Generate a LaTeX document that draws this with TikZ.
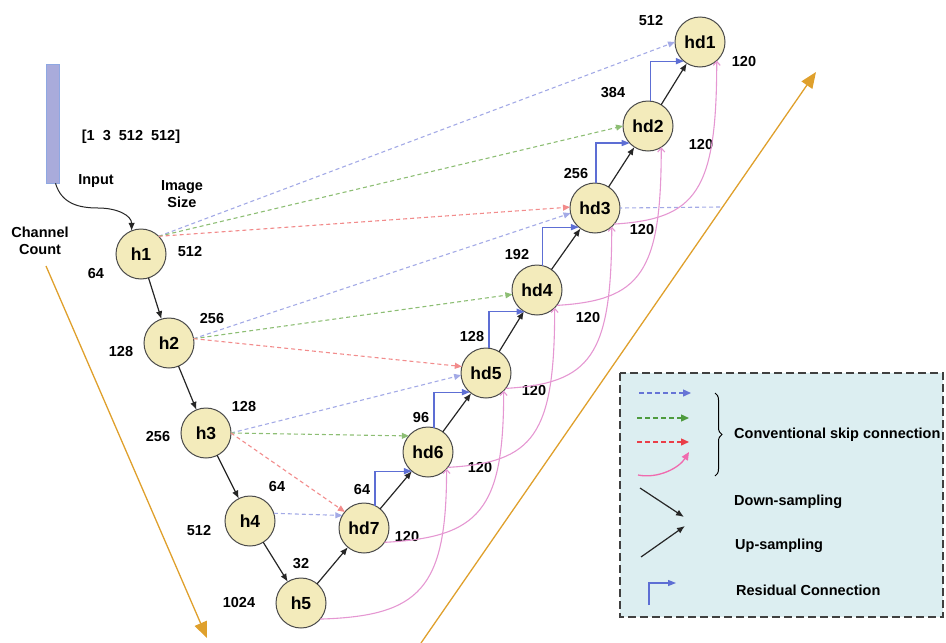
\documentclass[tikz,border=0pt]{standalone}
\usepackage{fontspec}
\setmainfont{Liberation Sans}
\usetikzlibrary{arrows.meta,calc,decorations.pathreplacing}

\definecolor{nodefill}{HTML}{F3EBBB}
\definecolor{nodeedge}{HTML}{4A4A4A}
\definecolor{skipblue}{HTML}{A3AAE6}
\definecolor{skipgreen}{HTML}{8DBE74}
\definecolor{skipred}{HTML}{F28C8C}
\definecolor{skippink}{HTML}{E597D2}
\definecolor{resblue}{HTML}{5D6ED4}
\definecolor{axisorange}{HTML}{DFA02C}
\definecolor{legendfill}{HTML}{DCEEF1}
\definecolor{legblue}{HTML}{6674D6}
\definecolor{leggreen}{HTML}{4E9B3E}
\definecolor{legred}{HTML}{EA3E48}
\definecolor{legpink}{HTML}{F06AAE}
\definecolor{inputfill}{HTML}{A9ABDB}
\definecolor{inputedge}{HTML}{8FA8E2}

\begin{document}
\begin{tikzpicture}[x=1pt,y=-1pt,
  unit/.style={circle, draw=nodeedge, line width=1pt, fill=nodefill,
    minimum size=50pt, inner sep=0pt, outer sep=0pt,
    font=\fontsize{17.5}{18}\selectfont\bfseries},
  lbl/.style={inner sep=0pt, font=\fontsize{14.5}{17}\selectfont\bfseries},
  down/.style={draw=black!85, line width=1.2pt, -{Latex[length=8pt,width=6.5pt]}},
  skip/.style={dash pattern=on 4pt off 3pt, line width=1.1pt,
    -{Triangle[length=7pt,width=6pt]}},
  legskipline/.style={dash pattern=on 5pt off 3pt, line width=1.4pt,
    -{Triangle[length=8pt,width=7pt]}},
  fuse/.style={draw=skippink, line width=1.1pt, -{Straight Barb[length=4pt,width=7pt]}},
  resid/.style={draw=resblue, line width=1.3pt, -{Triangle[length=8pt,width=6pt]}},
  axis/.style={draw=axisorange, line width=1.3pt, -{Triangle[length=16pt,width=13pt]}}
]
\useasboundingbox (0,0) rectangle (946,643);

% orange direction axes
\coordinate (ax1s) at (46,266);
\coordinate (ax1e) at (207,638);
\draw[axis] (ax1s) -- (ax1e);
\coordinate (ax2s) at (421,643);
\coordinate (ax2e) at (816,72);
\draw[axis] (ax2s) -- (ax2e);

% input tensor
\node[draw=inputedge, fill=inputfill, line width=0.6pt, minimum width=13pt,
  minimum height=119pt, inner sep=0pt] (input) at (52.5,123.5) {};

% encoder
\node[unit] (h1) at (141,254) {h1};
\node[unit] (h2) at (169,343) {h2};
\node[unit] (h3) at (206,433) {h3};
\node[unit] (h4) at (250,521) {h4};
\node[unit] (h5) at (301,603) {h5};
% decoder
\node[unit] (hd7) at (364,528) {hd7};
\node[unit] (hd6) at (428,452) {hd6};
\node[unit] (hd5) at (486,373) {hd5};
\node[unit] (hd4) at (537,290) {hd4};
\node[unit] (hd3) at (595,208) {hd3};
\node[unit] (hd2) at (648,126) {hd2};
\node[unit] (hd1) at (700,42) {hd1};

% text labels
\node[lbl] (shape) at (131,137) {[1\ \ 3\ \ 512\ \ 512]};
\node[lbl] (inlbl) at (96,181) {Input};
\node[lbl, align=center] (imgsize) at (182,194) {Image\\Size};
\node[lbl, align=center] (chcount) at (40,241) {Channel\\Count};
\node[lbl] (s1) at (190,252) {512};
\node[lbl] (c1) at (96,274) {64};
\node[lbl] (s2) at (212,319) {256};
\node[lbl] (c2) at (121,352) {128};
\node[lbl] (s3) at (244,407) {128};
\node[lbl] (c3) at (158,437) {256};
\node[lbl] (s4) at (277,487) {64};
\node[lbl] (c4) at (199,531) {512};
\node[lbl] (s5) at (301,564) {32};
\node[lbl] (c5) at (239,603) {1024};
\node[lbl] (d7s) at (362,490) {64};
\node[lbl] (d7c) at (407,537) {120};
\node[lbl] (d6s) at (421,418) {96};
\node[lbl] (d6c) at (480,468) {120};
\node[lbl] (d5s) at (472,337) {128};
\node[lbl] (d5c) at (534,391) {120};
\node[lbl] (d4s) at (517,255) {192};
\node[lbl] (d4c) at (588,318) {120};
\node[lbl] (d3s) at (576,174) {256};
\node[lbl] (d3c) at (642,230) {120};
\node[lbl] (d2s) at (613,93) {384};
\node[lbl] (d2c) at (701,145) {120};
\node[lbl] (d1s) at (651,21) {512};
\node[lbl] (d1c) at (744,62) {120};

% input into the first block
\coordinate (inbend) at (98,208);
\draw[down, line width=1pt] ($(input.south)+(3,0)$) .. controls +(6,20) and +(-20,0) .. (inbend)
  .. controls +(20,0) and +(0,-15) .. (h1.112);

% down-sampling path
\draw[down] (h1) -- (h2);
\draw[down] (h2) -- (h3);
\draw[down] (h3) -- (h4);
\draw[down] (h4) -- (h5);
% up-sampling path
\draw[down] (h5) -- (hd7);
\draw[down] (hd7) -- (hd6);
\draw[down] (hd6) -- (hd5);
\draw[down] (hd5) -- (hd4);
\draw[down] (hd4) -- (hd3);
\draw[down] (hd3) -- (hd2);
\draw[down] (hd2) -- (hd1);

% dashed skip connections
\draw[skip, skipblue] (h1.45) -- (hd1.180);
\draw[skip, skipgreen] (h1.45) -- (hd2.180);
\draw[skip, skipred] (h1.45) -- (hd3.178);
\draw[skip, skipblue] (h2.10) -- (hd3.192);
\draw[skip, skipgreen] (h2.10) -- (hd4.190);
\draw[skip, skipred] (h2.10) -- (hd5.165);
\draw[skip, skipblue] (h3.east) -- (hd5.185);
\draw[skip, skipgreen] (h3.east) -- (hd6.140);
\draw[skip, skipred] (h3.east) -- (hd7.140);
\draw[skip, skipblue] (h4.18) -- (hd7.150);
\coordinate (hd3tail) at (720,207);
\draw[skipblue, dash pattern=on 4pt off 3pt, line width=1.1pt] (hd3tail) -- (hd3.east);

% curved skip connections
\draw[fuse] (h5.-40) .. controls +(100,-3) and +(0,120) .. (hd6.-42);
\draw[fuse] (hd7.-35) .. controls +(95,-5) and +(0,120) .. (hd5.-45);
\draw[fuse] (hd6.-38) .. controls +(86,-5) and +(0,128) .. (hd4.-45);
\draw[fuse] (hd5.-38) .. controls +(85,-5) and +(0,130) .. (hd3.-48);
\draw[fuse] (hd4.-38) .. controls +(84,-5) and +(0,126) .. (hd2.-58);
\draw[fuse] (hd3.-40) .. controls +(82,-5) and +(0,131) .. (hd1.-48);

% residual connections
\draw[resid] (hd7.64) |- (hd6.230);
\draw[resid] (hd6.76) |- (hd5.230);
\draw[resid] (hd5.83) |- (hd4.240);
\draw[resid] (hd4.78) |- (hd3.230);
\draw[resid] (hd3.88) |- (hd2.223);
\draw[resid] (hd2.85) |- (hd1.230);

% legend
\draw[draw=black!75, fill=legendfill, line width=1.4pt, dash pattern=on 8pt off 4pt]
  (620,373) rectangle (943,617);
\coordinate (lb1) at (639,393); \coordinate (lb2) at (691,393);
\draw[legskipline, legblue] (lb1) -- (lb2);
\coordinate (lg1) at (637,418); \coordinate (lg2) at (689,418);
\draw[legskipline, leggreen] (lg1) -- (lg2);
\coordinate (lr1) at (637,442); \coordinate (lr2) at (689,442);
\draw[legskipline, legred] (lr1) -- (lr2);
\coordinate (lp1) at (638,475); \coordinate (lp2) at (689,452);
\draw[draw=legpink, line width=1.3pt, -{Triangle[length=8pt,width=7pt]}]
  (lp1) .. controls +(20,4) and +(-10,16) .. (lp2);
\coordinate (br1) at (715,393); \coordinate (br2) at (715,476);
\draw[line width=1pt, decorate, decoration={brace, amplitude=7pt}] (br1) -- (br2);
\coordinate (ld1) at (640,488); \coordinate (ld2) at (684,517);
\draw[down] (ld1) -- (ld2);
\coordinate (lu1) at (641,557); \coordinate (lu2) at (685,526);
\draw[down] (lu1) -- (lu2);
\coordinate (lres1) at (649,605); \coordinate (lres2) at (676,583);
\draw[resid] (lres1) |- (lres2);
\node[lbl, anchor=west] (legskip) at (734,435) {Conventional skip connection};
\node[lbl, anchor=west] (legdown) at (734,502) {Down-sampling};
\node[lbl, anchor=west] (legup) at (735,546) {Up-sampling};
\node[lbl, anchor=west] (legres) at (736,590) {Residual Connection};
\end{tikzpicture}
\end{document}
